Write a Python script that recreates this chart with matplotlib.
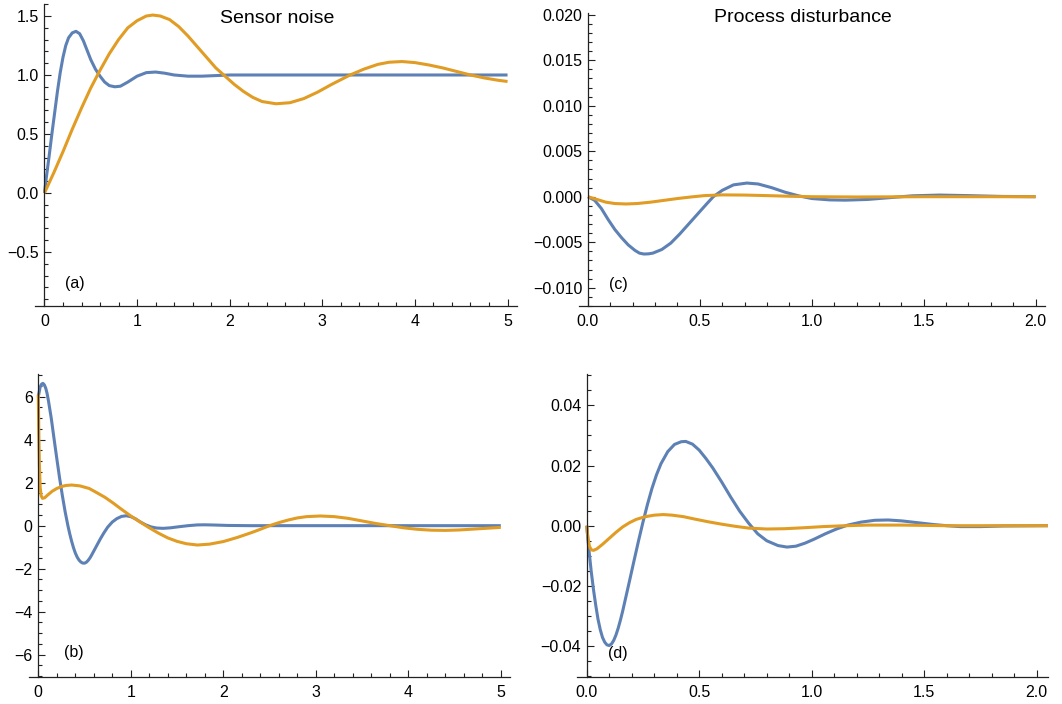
import matplotlib
matplotlib.use("Agg")
import matplotlib.pyplot as plt
from matplotlib.ticker import MultipleLocator, FuncFormatter

plt.rcParams['font.family'] = ['Liberation Sans', 'DejaVu Sans']

BLUE = '#5E81B5'
ORANGE = '#E19C24'

# ---------------- data: panel (a) sensor noise, output ----------------
a_blue_t = [0, 0.02, 0.05, 0.08, 0.11, 0.14, 0.17, 0.20, 0.23, 0.26, 0.30, 0.34,
            0.38, 0.42, 0.46, 0.50, 0.55, 0.60, 0.65, 0.70, 0.76, 0.82, 0.90,
            1.00, 1.10, 1.20, 1.30, 1.40, 1.55, 1.70, 1.85, 2.0, 2.5, 5.0]
a_blue_y = [0, 0.13, 0.31, 0.50, 0.68, 0.86, 1.02, 1.15, 1.25, 1.315, 1.357, 1.37,
            1.35, 1.29, 1.21, 1.13, 1.05, 0.99, 0.94, 0.91, 0.90, 0.905, 0.94,
            0.99, 1.02, 1.025, 1.015, 1.00, 0.99, 0.99, 0.995, 1.0, 1.0, 1.0]
a_orange_t = [0, 0.1, 0.2, 0.3, 0.4, 0.5, 0.6, 0.7, 0.8, 0.9, 1.0, 1.1, 1.17,
              1.25, 1.35, 1.45, 1.55, 1.65, 1.75, 1.85, 1.95, 2.05, 2.15, 2.25,
              2.35, 2.5, 2.65, 2.8, 2.95, 3.1, 3.2, 3.3, 3.45, 3.6, 3.72, 3.86,
              4.0, 4.15, 4.3, 4.45, 4.6, 4.75, 4.9, 5.0]
a_orange_y = [0, 0.17, 0.35, 0.54, 0.72, 0.89, 1.04, 1.18, 1.30, 1.40, 1.46, 1.50, 1.508,
              1.50, 1.47, 1.41, 1.33, 1.24, 1.15, 1.06, 0.99, 0.92, 0.86, 0.81,
              0.775, 0.756, 0.765, 0.80, 0.855, 0.92, 0.96, 1.0, 1.05, 1.09, 1.108, 1.114,
              1.105, 1.085, 1.06, 1.03, 1.0, 0.975, 0.955, 0.945]

# ---------------- data: panel (b) sensor noise, control ----------------
b_blue_t = [0, 0.02, 0.035, 0.05, 0.065, 0.08, 0.095, 0.11, 0.14, 0.17, 0.20, 0.23,
            0.26, 0.29, 0.32, 0.34, 0.36, 0.38, 0.40, 0.42, 0.44, 0.46, 0.48, 0.50,
            0.52, 0.54, 0.56, 0.58, 0.61, 0.64, 0.67, 0.71, 0.75, 0.80, 0.85, 0.90,
            0.95, 1.00, 1.05, 1.10, 1.16, 1.22, 1.28, 1.35, 1.43, 1.52, 1.62, 1.72,
            1.80, 1.90, 2.05, 2.3, 5.0]
b_blue_y = [6.0, 6.45, 6.58, 6.62, 6.55, 6.4, 6.15, 5.8, 5.0, 4.05, 3.12, 2.22,
            1.4, 0.65, 0.0, -0.38, -0.72, -1.02, -1.27, -1.46, -1.6, -1.69, -1.74, -1.745,
            -1.7, -1.61, -1.49, -1.34, -1.1, -0.86, -0.62, -0.33, -0.07, 0.17, 0.33, 0.43,
            0.46, 0.42, 0.32, 0.18, 0.04, -0.06, -0.11, -0.125, -0.1, -0.05, 0.0, 0.035,
            0.04, 0.03, 0.01, 0.0, 0.0]
b_orange_t = [0, 0.005, 0.012, 0.02, 0.03, 0.045, 0.07, 0.10, 0.15, 0.20, 0.25,
              0.30, 0.36, 0.45, 0.55, 0.63, 0.72, 0.81, 0.90, 1.0, 1.1, 1.2, 1.3,
              1.4, 1.5, 1.6, 1.72, 1.85, 2.0, 2.15, 2.3, 2.4, 2.5, 2.6, 2.7, 2.8,
              2.9, 3.05, 3.2, 3.35, 3.5, 3.65, 3.8, 3.95, 4.1, 4.25, 4.4, 4.55,
              4.7, 4.85, 5.0]
b_orange_y = [6.1, 4.5, 2.8, 1.8, 1.4, 1.27, 1.3, 1.42, 1.6, 1.73, 1.82,
              1.87, 1.89, 1.85, 1.73, 1.54, 1.32, 1.05, 0.76, 0.45, 0.17, -0.1, -0.35,
              -0.57, -0.73, -0.84, -0.9, -0.86, -0.74, -0.55, -0.33, -0.17, 0.0, 0.14, 0.26, 0.36,
              0.42, 0.45, 0.42, 0.34, 0.22, 0.1, 0.0, -0.1, -0.17, -0.21, -0.22, -0.2,
              -0.16, -0.12, -0.08]

# ---------------- data: panel (c) process disturbance, output ----------------
c_blue_t = [0, 0.03, 0.06, 0.09, 0.12, 0.15, 0.18, 0.21, 0.23, 0.25, 0.27, 0.29,
            0.33, 0.37, 0.41, 0.45, 0.49, 0.53, 0.56, 0.60, 0.65, 0.71, 0.76, 0.82,
            0.88, 0.94, 1.0, 1.08, 1.15, 1.25, 1.35, 1.45, 1.57, 1.7, 1.85, 2.0]
c_blue_y = [0, -0.0004, -0.0013, -0.0025, -0.0036, -0.0045, -0.0053, -0.0059, -0.0062, -0.0063, -0.00628, -0.0062,
            -0.0058, -0.0051, -0.0041, -0.003, -0.0019, -0.0008, 0.0, 0.0007, 0.0013, 0.0015, 0.0014, 0.001,
            0.0005, 0.0001, -0.0002, -0.00035, -0.00038, -0.0003, -0.0001, 0.0001, 0.00018, 0.00012, 0.00003, 0.0]
c_orange_t = [0, 0.04, 0.08, 0.12, 0.17, 0.22, 0.28, 0.34, 0.40, 0.46, 0.52, 0.6,
              0.7, 0.8, 0.9, 1.0, 1.2, 1.5, 2.0]
c_orange_y = [0, -0.0003, -0.0006, -0.00075, -0.0008, -0.00075, -0.0006, -0.0004, -0.0002, -0.00003, 0.00012, 0.0002,
              0.00018, 0.00012, 0.00005, 0.0, -0.00003, 0.0, 0.0]

# ---------------- data: panel (d) process disturbance, control ----------------
d_blue_t = [0, 0.005, 0.01, 0.02, 0.03, 0.04, 0.05, 0.06, 0.07, 0.08, 0.09, 0.10,
            0.11, 0.12, 0.13, 0.14, 0.15, 0.16, 0.17, 0.19, 0.21, 0.23, 0.25, 0.27,
            0.29, 0.31, 0.33, 0.36, 0.39, 0.42, 0.44, 0.47, 0.50, 0.53, 0.56, 0.60,
            0.64, 0.68, 0.72, 0.76, 0.80, 0.85, 0.89, 0.93, 0.97, 1.01, 1.06, 1.11,
            1.16, 1.22, 1.28, 1.34, 1.40, 1.47, 1.54, 1.60, 1.66, 1.75, 1.85, 2.05]
d_blue_y = [0, -0.0042, -0.0082, -0.0152, -0.0212, -0.0264, -0.0310, -0.0345, -0.0371, -0.0387, -0.0396, -0.0398,
            -0.0393, -0.0381, -0.0363, -0.0340, -0.0313, -0.0283, -0.0250, -0.0184, -0.0117, -0.0051, 0.0012, 0.0071,
            0.0124, 0.0169, 0.0206, 0.0246, 0.0270, 0.0279, 0.0280, 0.0271, 0.0251, 0.0223, 0.0192, 0.0145,
            0.0095, 0.0048, 0.0008, -0.0027, -0.005, -0.0066, -0.0071, -0.0068, -0.0058, -0.0045, -0.0027, -0.0011,
            0.0002, 0.0012, 0.0018, 0.0019, 0.0016, 0.001, 0.0004, 0.0, -0.0003, -0.0003, -0.0001, 0.0]
d_orange_t = [0, 0.005, 0.012, 0.02, 0.03, 0.045, 0.07, 0.10, 0.13, 0.16, 0.19,
              0.22, 0.26, 0.30, 0.34, 0.38, 0.43, 0.48, 0.54, 0.60, 0.66, 0.72,
              0.80, 0.88, 0.96, 1.05, 1.15, 1.25, 1.4, 1.6, 2.05]
d_orange_y = [0, -0.004, -0.0068, -0.008, -0.0082, -0.0077, -0.0062, -0.0042, -0.0022, -0.0004, 0.001,
              0.0021, 0.003, 0.0035, 0.0037, 0.0035, 0.003, 0.0022, 0.0013, 0.0005, -0.0002, -0.0008,
              -0.0011, -0.001, -0.0007, -0.0003, 0.0, 0.0002, 0.0002, 0.0, 0.0]

titles = ["Sensor noise", "Process disturbance"]
panel_labels = ["(a)", "(b)", "(c)", "(d)"]

# ---------------- figure ----------------
W, H = 1062, 704
fig = plt.figure(figsize=(W / 100, H / 100), dpi=100)


def rect(l, t, r, b):
    return [l / W, 1 - b / H, (r - l) / W, (b - t) / H]


def minus(fmt):
    return FuncFormatter(lambda v, p: (fmt % v).replace('-', '\u2212'))


def style(ax, xlim, ylim, xmaj, xmin, ymaj, ymin, xfmt, yfmt):
    ax.set_xlim(*xlim)
    ax.set_ylim(*ylim)
    for s in ['top', 'right']:
        ax.spines[s].set_visible(False)
    ax.spines['left'].set_position(('data', 0))
    for s in ['left', 'bottom']:
        ax.spines[s].set_linewidth(0.9)
        ax.spines[s].set_color('#222222')
    ax.xaxis.set_major_locator(MultipleLocator(xmaj))
    ax.xaxis.set_minor_locator(MultipleLocator(xmin))
    ax.yaxis.set_major_locator(MultipleLocator(ymaj))
    ax.yaxis.set_minor_locator(MultipleLocator(ymin))
    ax.xaxis.set_major_formatter(minus(xfmt))
    ax.yaxis.set_major_formatter(minus(yfmt))
    ax.tick_params(which='both', direction='in', colors='#222222', labelcolor='black',
                   labelsize=11.5, width=0.8)
    ax.tick_params(which='major', length=5)
    ax.tick_params(which='minor', length=3)
    ax.tick_params(axis='x', pad=6)
    ax.tick_params(axis='y', pad=4)
    ax.patch.set_visible(False)


ax_a = fig.add_axes(rect(35.2, 4.2, 516.8, 306))
ax_c = fig.add_axes(rect(579.0, 12.9, 1044.6, 305.9))
ax_b = fig.add_axes(rect(29.05, 374.3, 510.05, 676.6))
ax_d = fig.add_axes(rect(576.6, 374.3, 1048.0, 676.8))

lw = 2.2
kw = dict(lw=lw, solid_capstyle='butt', solid_joinstyle='round')
ax_a.plot(a_blue_t, a_blue_y, color=BLUE, **kw)
ax_a.plot(a_orange_t, a_orange_y, color=ORANGE, **kw)
ax_b.plot(b_blue_t, b_blue_y, color=BLUE, **kw)
ax_b.plot(b_orange_t, b_orange_y, color=ORANGE, **kw)
ax_c.plot(c_blue_t, c_blue_y, color=BLUE, **kw)
ax_c.plot(c_orange_t, c_orange_y, color=ORANGE, **kw)
ax_d.plot(d_blue_t, d_blue_y, color=BLUE, **kw)
ax_d.plot(d_orange_t, d_orange_y, color=ORANGE, **kw)

style(ax_a, (-0.1, 5.1), (-0.958, 1.6), 1, 0.2, 0.5, 0.1, '%.0f', '%.1f')
style(ax_b, (-0.1, 5.1), (-7.02, 7.04), 1, 0.2, 2, 0.5, '%.0f', '%.0f')
style(ax_c, (-0.04, 2.04), (-0.012, 0.0202), 0.5, 0.1, 0.005, 0.001, '%.1f', '%.3f')
style(ax_d, (-0.045, 2.05), (-0.0502, 0.0503), 0.5, 0.1, 0.02, 0.005, '%.1f', '%.2f')

ax_a.text(2.51, 1.483, titles[0], fontsize=14, ha='center', va='center')
ax_c.text(0.958, 0.01964, titles[1], fontsize=14, ha='center', va='center')

ax_a.text(0.33, -0.77, panel_labels[0], fontsize=11.5, ha='center', va='center')
ax_b.text(0.386, -5.92, panel_labels[1], fontsize=11.5, ha='center', va='center')
ax_c.text(0.134, -0.0096, panel_labels[2], fontsize=11.5, ha='center', va='center')
ax_d.text(0.139, -0.0423, panel_labels[3], fontsize=11.5, ha='center', va='center')

fig.savefig('out.png', dpi=100)
